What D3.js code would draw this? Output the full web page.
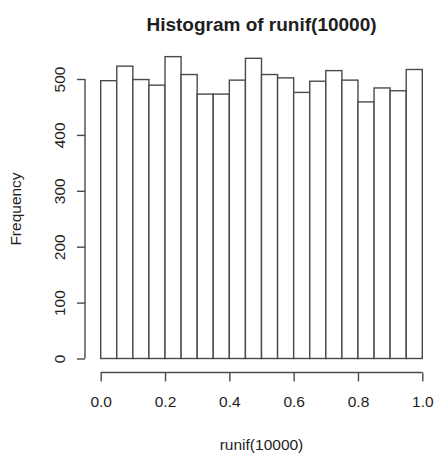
<!DOCTYPE html>
<html>
<head>
<meta charset="utf-8">
<script src="https://cdn.jsdelivr.net/npm/d3@7"></script>
<style>
  html, body { margin: 0; padding: 0; background: #fff; }
  svg { display: block; font-family: "Liberation Sans", Arial, sans-serif; }
</style>
</head>
<body>
<svg id="chart" width="436" height="454"></svg>
<script>
// Bin edges of the histogram (width 0.05 on [0, 1])
const binStart = [0, 0.05, 0.10, 0.15, 0.20, 0.25, 0.30, 0.35, 0.40, 0.45,
                  0.50, 0.55, 0.60, 0.65, 0.70, 0.75, 0.80, 0.85, 0.90, 0.95];
const binWidth = 0.05;
// Counts per bin
const counts = [497, 523, 499, 489, 540, 508, 473, 473, 498, 537,
                508, 502, 476, 496, 515, 498, 459, 484, 479, 517];
// Axis ticks
const xTicks = [0, 0.2, 0.4, 0.6, 0.8, 1.0];
const yTicks = [0, 100, 200, 300, 400, 500];

const titleText = "Histogram of runif(10000)";
const xLabel = "runif(10000)";
const yLabel = "Frequency";

const svg = d3.select("#chart");
const ink = "#1e1e1e";
const lineCol = "#4a4a4a";

const x = d3.scaleLinear().domain([0, 1]).range([100.7, 422.3]);
const y = d3.scaleLinear().domain([0, 500]).range([358.5, 79]);

// Bars
svg.append("g")
  .selectAll("rect")
  .data(counts)
  .join("rect")
  .attr("x", (d, i) => x(binStart[i]))
  .attr("width", (d, i) => x(binStart[i] + binWidth) - x(binStart[i]))
  .attr("y", d => y(d))
  .attr("height", d => y(0) - y(d))
  .attr("fill", "#fff")
  .attr("stroke", lineCol)
  .attr("stroke-width", 1.4);

// X axis
const xAxis = svg.append("g")
  .attr("transform", "translate(0,372.5)")
  .call(d3.axisBottom(x).tickValues(xTicks).tickSize(9).tickPadding(14)
        .tickFormat(d3.format(".1f")));
xAxis.select(".domain").attr("stroke", lineCol).attr("stroke-width", 1.4)
  .attr("d", `M${x(0)},0H${x(1)}`);
xAxis.selectAll(".tick line").attr("stroke", lineCol).attr("stroke-width", 1.4);
xAxis.selectAll(".tick text")
  .attr("fill", ink).attr("font-size", 15.5)
  .attr("font-family", "Liberation Sans, Arial, sans-serif");

// Y axis
const yAxis = svg.append("g")
  .attr("transform", "translate(85,0)")
  .call(d3.axisLeft(y).tickValues(yTicks).tickSize(8).tickPadding(0));
yAxis.select(".domain").attr("stroke", lineCol).attr("stroke-width", 1.4)
  .attr("d", `M0,${y(0)}V${y(500)}`);
yAxis.selectAll(".tick line").attr("stroke", lineCol).attr("stroke-width", 1.4);
yAxis.selectAll(".tick text")
  .attr("fill", ink).attr("font-size", 15.5)
  .attr("font-family", "Liberation Sans, Arial, sans-serif")
  .attr("x", null).attr("dy", null)
  .attr("text-anchor", "middle")
  .attr("transform", "translate(-25,0) rotate(-90)")
  .attr("y", 0)
  .attr("dy", "0.35em");

// Title
svg.append("text")
  .attr("x", 261.5).attr("y", 31)
  .attr("text-anchor", "middle")
  .attr("font-size", 19).attr("font-weight", "bold")
  .attr("fill", ink)
  .text(titleText);

// Axis titles
svg.append("text")
  .attr("x", 261.5).attr("y", 450)
  .attr("text-anchor", "middle")
  .attr("font-size", 15.5)
  .attr("fill", ink)
  .text(xLabel);

svg.append("text")
  .attr("transform", "translate(21,209) rotate(-90)")
  .attr("text-anchor", "middle")
  .attr("font-size", 15.5)
  .attr("fill", ink)
  .text(yLabel);
</script>
</body>
</html>
